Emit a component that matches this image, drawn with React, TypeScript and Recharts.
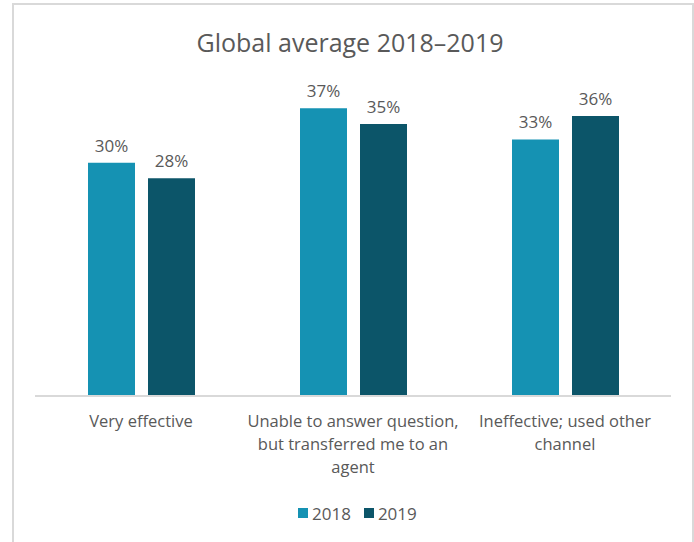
import { BarChart, Bar, XAxis, YAxis, LabelList, Legend } from "recharts";

const categories = ["Very effective", "Unable to answer question, but transferred me to an agent", "Ineffective; used other channel"];
// how the labels wrap in the original
const categoryLines = [
  ["Very effective"],
  ["Unable to answer question,", "but transferred me to an", "agent"],
  ["Ineffective; used other", "channel"],
];
const values2018 = [30, 37, 33];
const values2019 = [28, 35, 36];
const seriesNames = ["2018", "2019"];

const COLORS = ["#1592b3", "#0c5569"];
const TEXT = "#595959";
const FONT = "'Open Sans', sans-serif";

const data = categories.map((c, i) => ({
  name: c,
  y2018: values2018[i],
  y2019: values2019[i],
}));

function CategoryTick({ x, y, index }: any) {
  const lines = categoryLines[index] || [];
  return (
    <text x={x} y={y} textAnchor="middle" fill={TEXT} fontSize={16.5} fontFamily={FONT}>
      {lines.map((l, i) => (
        <tspan key={i} x={x} dy={i === 0 ? 31 : 23}>
          {l}
        </tspan>
      ))}
    </text>
  );
}

function LegendBox() {
  return (
    <div style={{ display: "flex", alignItems: "center", height: 24, fontFamily: FONT, fontSize: 17, color: TEXT }}>
      {seriesNames.map((n, i) => (
        <div key={n} style={{ display: "flex", alignItems: "center", marginRight: i === 0 ? 13 : 0 }}>
          <span style={{ width: 10, height: 10, background: COLORS[i], marginRight: 4, display: "inline-block" }} />
          <span>{n}</span>
        </div>
      ))}
    </div>
  );
}

export default function App() {
  return (
    <div style={{ position: "absolute", left: 0, top: 0, width: 694, height: 542, overflow: "hidden", background: "#fff" }}>
      <div
        style={{
          position: "absolute",
          left: 12,
          top: 3,
          width: 678,
          height: 600,
          border: "2px solid #d9d9d9",
        }}
      />
      <div
        style={{
          position: "absolute",
          left: 0,
          width: 700,
          top: 25,
          textAlign: "center",
          fontFamily: FONT,
          fontSize: 25,
          color: TEXT,
          lineHeight: "34px",
        }}
      >
        Global average 2018–2019
      </div>
      <div style={{ position: "absolute", left: 0, top: 0 }}>
        <BarChart
          width={694}
          height={542}
          data={data}
          margin={{ top: 85, right: 23, left: 35, bottom: 17 }}
          barGap={13}
          barSize={47}
        >
          <XAxis
            dataKey="name"
            axisLine={{ stroke: "#d9d9d9", strokeWidth: 2 }}
            tickLine={false}
            tickSize={0}
            tickMargin={0}
            height={105}
            interval={0}
            tick={<CategoryTick />}
          />
          <YAxis hide domain={[0, 40]} />
          <Legend
            verticalAlign="bottom"
            content={<LegendBox />}
            wrapperStyle={{ left: 298, width: "auto", bottom: 17 }}
          />
          <Bar dataKey="y2018" name="2018" fill={COLORS[0]} isAnimationActive={false}>
            <LabelList dataKey="y2018" position="top" offset={11} formatter={(v: any) => `${v}%`} fill={TEXT} fontSize={17} fontFamily={FONT} />
          </Bar>
          <Bar dataKey="y2019" name="2019" fill={COLORS[1]} isAnimationActive={false}>
            <LabelList dataKey="y2019" position="top" offset={11} formatter={(v: any) => `${v}%`} fill={TEXT} fontSize={17} fontFamily={FONT} />
          </Bar>
        </BarChart>
      </div>
    </div>
  );
}
